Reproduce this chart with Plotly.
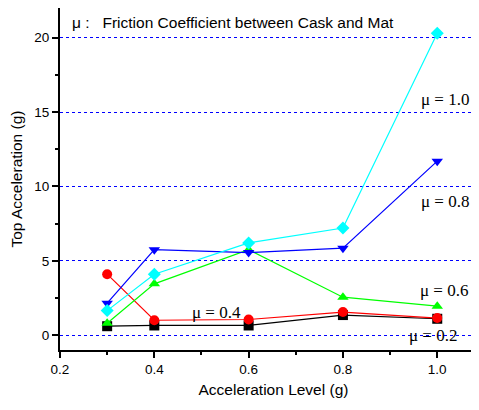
import plotly.graph_objects as go

accel_level = [0.3, 0.4, 0.6, 0.8, 1.0]
mu_02 = [0.6, 0.65, 0.65, 1.35, 1.1]
mu_04 = [4.1, 1.0, 1.05, 1.55, 1.15]
mu_06 = [0.8, 3.45, 5.75, 2.55, 1.95]
mu_08 = [2.15, 5.75, 5.55, 5.85, 11.7]
mu_10 = [1.65, 4.1, 6.2, 7.2, 20.3]

series = [
    ("μ = 0.2", mu_02, "black", "square"),
    ("μ = 0.4", mu_04, "red", "circle"),
    ("μ = 0.6", mu_06, "#00FF00", "triangle-up"),
    ("μ = 0.8", mu_08, "#0000FF", "triangle-down"),
    ("μ = 1.0", mu_10, "#00FFFF", "diamond"),
]

fig = go.Figure()
for name, vals, color, sym in series:
    fig.add_trace(go.Scatter(
        x=accel_level, y=vals, mode="lines+markers", name=name,
        line=dict(color=color, width=1.2),
        marker=dict(color=color, symbol=sym, size=10, line=dict(width=0)),
        cliponaxis=False,
    ))

label_font = dict(family="Liberation Serif, Times New Roman, serif", size=17, color="black")
labels = [
    ("μ = 1.0", 1.016, 15.85),
    ("μ = 0.8", 1.016, 8.99),
    ("μ = 0.6", 1.014, 3.0),
    ("μ = 0.4", 0.531, 1.52),
    ("μ = 0.2", 0.992, -0.02),
]
annotations = [dict(x=x, y=y, xref="x", yref="y", text=t, showarrow=False,
                    font=label_font, xanchor="center", yanchor="middle") for t, x, y in labels]
annotations.append(dict(
    x=10 / 471.25 + 0.2, y=21.0, xref="x", yref="y",
    text="μ :   Friction Coefficient between Cask and Mat", showarrow=False,
    xanchor="left", yanchor="middle",
    font=dict(family="Liberation Sans, Arial, sans-serif", size=15.5, color="black")))

fig.update_layout(
    width=479, height=410,
    margin=dict(l=52, r=0, t=0, b=68),
    paper_bgcolor="white", plot_bgcolor="white",
    showlegend=False,
    annotations=annotations,
    font=dict(family="Liberation Sans, Arial, sans-serif", size=13, color="black"),
    xaxis=dict(
        range=[0.2, 1.1055], tickvals=[0.2, 0.4, 0.6, 0.8, 1.0],
        ticktext=["0.2", "0.4", "0.6", "0.8", "1.0"],
        ticks="outside", ticklen=6, tickwidth=1.5, tickcolor="black",
        minor=dict(tickvals=[0.3, 0.5, 0.7, 0.9], ticks="outside", ticklen=3, tickwidth=1.5, tickcolor="black"),
        showline=True, linecolor="black", linewidth=2, mirror=True,
        showgrid=False, zeroline=False, automargin=False,
        title=dict(text="Acceleration Level (g)", font=dict(size=15.5), standoff=8),
        tickfont=dict(size=13.5),
    ),
    yaxis=dict(
        range=[-1, 22], tickvals=[0, 5, 10, 15, 20],
        ticks="outside", ticklen=6, tickwidth=1.5, tickcolor="black",
        minor=dict(tickvals=[2.5, 7.5, 12.5, 17.5], ticks="outside", ticklen=3, tickwidth=1.5, tickcolor="black"),
        showline=True, linecolor="black", linewidth=2, mirror=False,
        showgrid=True, gridcolor="#0000FF", gridwidth=1, griddash="dot",
        zeroline=False, automargin=False,
        title=dict(text="Top Acceleration (g)", font=dict(size=15.5), standoff=10),
        tickfont=dict(size=13.5),
    ),
)

fig.write_html("out.html")
